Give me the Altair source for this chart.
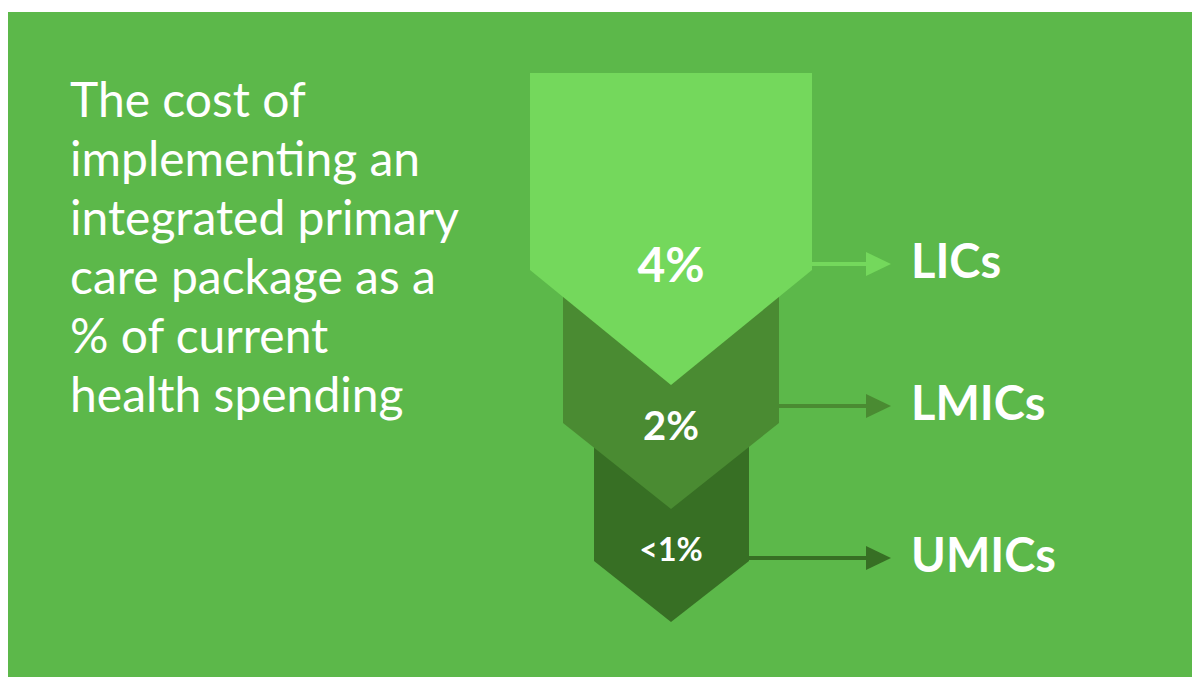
import altair as alt
import pandas as pd

# ---- data ----
categories = ["LICs", "LMICs", "UMICs"]
value_labels = ["4%", "2%", "<1%"]
shape_colors = ["#74D85C", "#4A8B32", "#376F24"]
title_lines = ["The cost of", "implementing an", "integrated primary",
               "care package as a", "% of current", "health spending"]

# layout (pixel coordinates in a 1192x677 canvas)
shape_left = [530, 563, 594]
shape_right = [812, 779, 749]
shape_top = [73, 250, 400]
shape_shoulder = [270, 423, 561]
shape_tip = [385, 509, 622]
center_x = 671
label_y = [268, 428, 551]
label_size = [48, 40, 32]
arrow_y = [264, 406, 558]
arrow_end = 891
head_len = 25
head_half = 12
name_x = 911

W, H = 1192, 677
xs = alt.Scale(domain=[0, W], nice=False, zero=False)
ys = alt.Scale(domain=[0, H], nice=False, zero=False, reverse=True)

bg = pd.DataFrame({"x": [8], "x2": [W], "y": [12], "y2": [H]})
bg_layer = alt.Chart(bg).mark_rect(color="#5CB84A").encode(
    x=alt.X("x:Q", scale=xs, axis=None), x2="x2:Q",
    y=alt.Y("y:Q", scale=ys, axis=None), y2="y2:Q")

layers = [bg_layer]

# arrows (draw beneath shapes)
for i in range(3):
    start = shape_right[i]
    line_df = pd.DataFrame({"x": [start], "x2": [arrow_end - head_len + 2], "y": [arrow_y[i]]})
    layers.append(alt.Chart(line_df).mark_rule(color=shape_colors[i], strokeWidth=4).encode(
        x=alt.X("x:Q", scale=xs, axis=None), x2="x2:Q",
        y=alt.Y("y:Q", scale=ys, axis=None)))
    head_df = pd.DataFrame({
        "x": [arrow_end - head_len, arrow_end],
        "y": [arrow_y[i] - head_half, arrow_y[i]],
        "y2": [arrow_y[i] + head_half, arrow_y[i]],
    })
    layers.append(alt.Chart(head_df).mark_area(color=shape_colors[i], interpolate="linear").encode(
        x=alt.X("x:Q", scale=xs, axis=None),
        y=alt.Y("y:Q", scale=ys, axis=None, stack=None), y2="y2:Q"))

# chevron shapes: draw from bottom (UMIC) to top (LIC)
for i in [2, 1, 0]:
    df = pd.DataFrame({
        "x": [shape_left[i], center_x, shape_right[i]],
        "y": [shape_top[i]] * 3,
        "y2": [shape_shoulder[i], shape_tip[i], shape_shoulder[i]],
    })
    layers.append(alt.Chart(df).mark_area(color=shape_colors[i], interpolate="linear").encode(
        x=alt.X("x:Q", scale=xs, axis=None),
        y=alt.Y("y:Q", scale=ys, axis=None, stack=None), y2="y2:Q"))

# value labels
for i in range(3):
    t = pd.DataFrame({"x": [center_x], "y": [label_y[i]], "t": [value_labels[i]]})
    layers.append(alt.Chart(t).mark_text(
        font="Lato", fontWeight="bold", fontSize=label_size[i], color="white",
        align="center", baseline="middle").encode(
        x=alt.X("x:Q", scale=xs, axis=None), y=alt.Y("y:Q", scale=ys, axis=None), text="t:N"))

# category names
names = pd.DataFrame({"x": [name_x] * 3, "y": arrow_y, "t": categories})
layers.append(alt.Chart(names).mark_text(
    font="Lato", fontWeight="bold", fontSize=47, color="white",
    align="left", baseline="middle").encode(
    x=alt.X("x:Q", scale=xs, axis=None), y=alt.Y("y:Q", scale=ys, axis=None), text="t:N"))

# title text
title_df = pd.DataFrame({"x": [70], "y": [117], "t": ["\n".join(title_lines)]})
layers.append(alt.Chart(title_df).mark_text(
    font="Lato", fontSize=48, color="white", align="left", baseline="alphabetic",
    lineBreak="\n", lineHeight=59).encode(
    x=alt.X("x:Q", scale=xs, axis=None), y=alt.Y("y:Q", scale=ys, axis=None), text="t:N"))

chart = alt.layer(*layers).properties(
    width=W, height=H, padding=0, autosize=alt.AutoSizeParams(type="none"),
    background="white"
).configure_view(stroke=None)

chart.save("out.html", embed_options={"renderer": "svg", "actions": False})
